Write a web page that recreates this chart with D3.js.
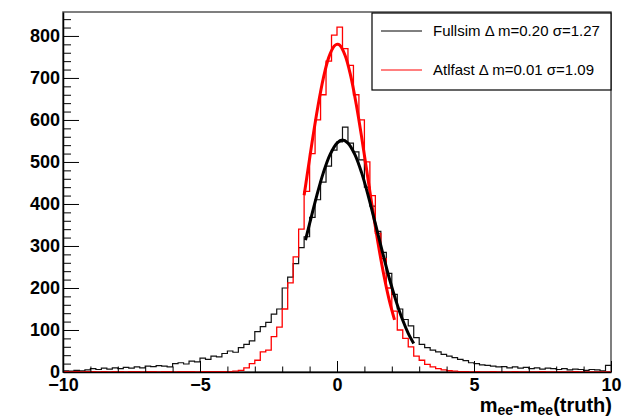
<!DOCTYPE html>
<html>
<head>
<meta charset="utf-8">
<script src="https://cdn.jsdelivr.net/npm/d3@7"></script>
<style>
	body { margin: 0; background: #fff; }
	svg { display: block; font-family: 'Liberation Sans', Arial, sans-serif; }
</style>
</head>
<body>
<div id="chart"></div>
<script>
// histogram binning: 100 bins of 0.2 from -10 to 10
const binStart = -10
const binWidth = 0.2

// Fullsim (black) bin contents
const fullsimCounts = [
	3, 2, 4, 3, 5, 8, 6, 9, 7, 10,
	8, 11, 9, 12, 10, 14, 13, 15, 14, 12,
	20, 22, 19, 26, 24, 33, 30, 38, 36, 44,
	50, 47, 58, 66, 74, 96, 108, 118, 138, 150,
	200, 226, 258, 296, 322, 368, 410, 452, 490, 528,
	548, 583, 545, 524, 505, 440, 395, 335, 285, 235,
	185, 150, 125, 110, 82, 66, 58, 52, 48, 42,
	38, 34, 30, 27, 22, 20, 17, 16, 14, 12,
	13, 10, 12, 9, 11, 8, 10, 7, 9, 8,
	6, 8, 5, 7, 6, 4, 6, 5, 3, 16
]

// Atlfast (red) bin contents
const atlfastCounts = [
	1, 0, 1, 0, 1, 1, 0, 1, 0, 1,
	1, 0, 1, 1, 0, 1, 1, 0, 1, 1,
	0, 1, 1, 1, 0, 1, 1, 1, 1, 1,
	1, 2, 4, 10, 20, 28, 48, 52, 84, 107,
	150, 212, 274, 340, 430, 520, 600, 660, 740, 802,
	821, 770, 730, 660, 600, 500, 420, 330, 270, 200,
	145, 100, 80, 60, 38, 28, 18, 12, 8, 5,
	3, 2, 1, 1, 0, 1, 0, 0, 1, 0,
	0, 0, 1, 0, 0, 0, 0, 1, 0, 0,
	0, 0, 0, 1, 0, 0, 0, 0, 0, 0
]

// gaussian fit curves
const fullsimFitX = [-1.15, -1.0, -0.75, -0.5, -0.25, 0, 0.2, 0.4, 0.65, 0.9, 1.15, 1.4, 1.65, 1.9, 2.15, 2.4, 2.6, 2.8]
const fullsimFitY = [314, 353, 417, 474, 518, 545, 552, 545, 518, 474, 417, 353, 288, 225, 170, 123, 92, 68]
const atlfastFitX = [-1.2, -1.1, -0.9, -0.7, -0.5, -0.3, -0.1, 0.01, 0.1, 0.3, 0.5, 0.7, 0.9, 1.1, 1.3, 1.5, 1.7, 1.9, 2.1]
const atlfastFitY = [421, 464, 551, 631, 699, 749, 776, 780, 778, 753, 705, 638, 559, 473, 387, 306, 234, 173, 124]

const yMajorTicks = [0, 100, 200, 300, 400, 500, 600, 700, 800]
const xMajorTicks = [-10, -5, 0, 5, 10]

const legendLabels = [
	{ name: 'Fullsim', dm: '0.20', sigma: '1.27', color: '#000' },
	{ name: 'Atlfast', dm: '0.01', sigma: '1.09', color: '#ff0000' }
]

const width = 637
const height = 419
const frame = { left: 63, right: 611, top: 12, bottom: 372 }

const svg = d3.select('#chart')
	.append('svg')
	.attr('width', width)
	.attr('height', height)

const x = d3.scaleLinear().domain([-10, 10]).range([frame.left, frame.right])
const y = d3.scaleLinear().domain([0, 857]).range([frame.bottom, frame.top])

// frame
svg.append('rect')
	.attr('x', frame.left)
	.attr('y', frame.top)
	.attr('width', frame.right - frame.left)
	.attr('height', frame.bottom - frame.top)
	.attr('fill', 'none')
	.attr('stroke', '#555')
	.attr('stroke-width', 1.5)

const toBins = (counts) => {
	const pts = counts.map((c, i) => [binStart + i * binWidth, c])
	pts.push([binStart + counts.length * binWidth, counts[counts.length - 1]])
	return pts
}

const stepLine = d3.line()
	.x((d) => x(d[0]))
	.y((d) => y(d[1]))
	.curve(d3.curveStepAfter)

const fitLine = d3.line()
	.x((d) => x(d[0]))
	.y((d) => y(d[1]))
	.curve(d3.curveCatmullRom)

const plot = svg.append('g')

plot.append('path')
	.attr('d', stepLine(toBins(fullsimCounts)))
	.attr('fill', 'none')
	.attr('stroke', '#111')
	.attr('stroke-width', 1.2)

plot.append('path')
	.attr('d', stepLine(toBins(atlfastCounts)))
	.attr('fill', 'none')
	.attr('stroke', '#ff0000')
	.attr('stroke-width', 1.3)

plot.append('path')
	.attr('d', fitLine(atlfastFitX.map((v, i) => [v, atlfastFitY[i]])))
	.attr('fill', 'none')
	.attr('stroke', '#ff0000')
	.attr('stroke-width', 3)

plot.append('path')
	.attr('d', fitLine(fullsimFitX.map((v, i) => [v, fullsimFitY[i]])))
	.attr('fill', 'none')
	.attr('stroke', '#000')
	.attr('stroke-width', 3)

// axes, ROOT style ticks pointing inward
const yMinor = d3.range(0, 857, 20).filter((v) => v % 100 !== 0)
const xMinor = d3.range(-10, 10.01, 1).filter((v) => v % 5 !== 0)

const gy = svg.append('g').attr('transform', `translate(${frame.left},0)`)
gy.call(d3.axisLeft(y).tickValues(yMinor).tickSize(-8).tickSizeOuter(0).tickFormat(''))
gy.call((g) => g.select('.domain').remove())
const gyMajor = svg.append('g').attr('transform', `translate(${frame.left},0)`)
gyMajor.call(d3.axisLeft(y).tickValues(yMajorTicks).tickSize(-16).tickSizeOuter(0).tickPadding(0))
gyMajor.selectAll('text')
	.attr('x', -3)
	.attr('dy', '0.3em')
	.style('font-size', '18px')
	.style('font-weight', 'bold')
	.attr('fill', '#000')

const gx = svg.append('g').attr('transform', `translate(0,${frame.bottom})`)
gx.call(d3.axisBottom(x).tickValues(xMinor).tickSize(-5.5).tickSizeOuter(0).tickFormat(''))
gx.call((g) => g.select('.domain').remove())
const gxMajor = svg.append('g').attr('transform', `translate(0,${frame.bottom})`)
gxMajor.call(d3.axisBottom(x).tickValues(xMajorTicks).tickSize(-11).tickSizeOuter(0))
gxMajor.selectAll('text')
	.attr('y', 19)
	.attr('dy', 0)
	.style('font-size', '18px')
	.style('font-weight', 'bold')
	.attr('fill', '#000')

svg.selectAll('.domain').attr('stroke', '#000').attr('stroke-width', 1.5)
svg.selectAll('.tick line').attr('stroke', '#000').attr('stroke-width', 1)

// axis title
const title = svg.append('text')
	.attr('x', frame.right + 1)
	.attr('y', 412)
	.attr('text-anchor', 'end')
	.style('font-size', '20px')
	.style('font-weight', 'bold')
title.append('tspan').text('m')
title.append('tspan').text('ee').attr('dy', 3).style('font-size', '14px')
title.append('tspan').text('-m').attr('dy', -3)
title.append('tspan').text('ee').attr('dy', 3).style('font-size', '14px')
title.append('tspan').text('(truth)').attr('dy', -3)

// legend
const legend = svg.append('g')
legend.append('rect')
	.attr('x', 372)
	.attr('y', 13)
	.attr('width', 239)
	.attr('height', 77)
	.attr('fill', '#fff')
	.attr('stroke', '#000')
	.attr('stroke-width', 1.2)

legendLabels.forEach((d, i) => {
	const ly = 31 + i * 39
	legend.append('line')
		.attr('x1', 381).attr('x2', 422)
		.attr('y1', ly).attr('y2', ly)
		.attr('stroke', d.color)
		.attr('stroke-width', 1)
	legend.append('text')
		.attr('x', 433)
		.attr('y', ly + 5)
		.style('font-size', '15px')
		.text(`${d.name} \u0394 m=${d.dm} \u03c3=${d.sigma}`)
})
</script>
</body>
</html>
